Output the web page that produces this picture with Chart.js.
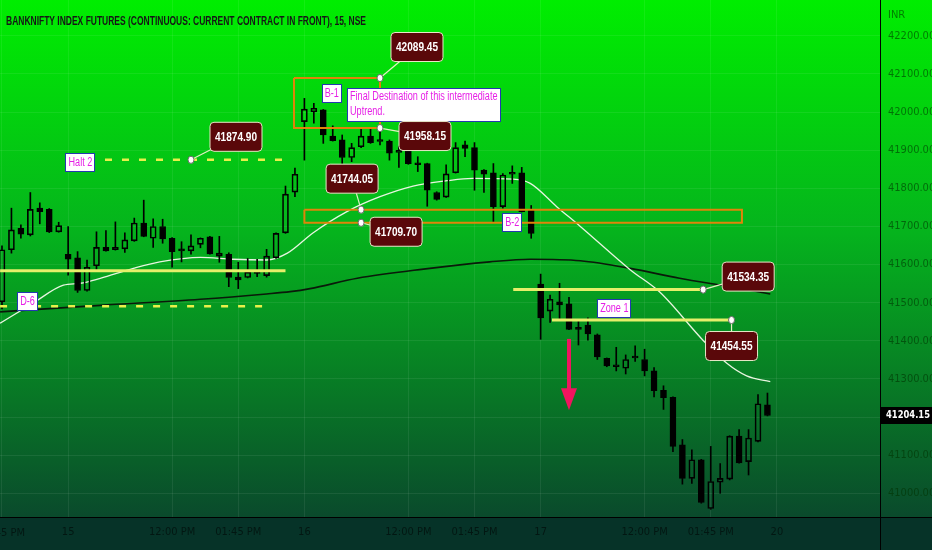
<!DOCTYPE html>
<html>
<head>
<meta charset="utf-8">
<script src="https://cdn.jsdelivr.net/npm/chart.js@4.4.1/dist/chart.umd.min.js"></script>
<style>
  html, body { margin: 0; padding: 0; background: #063328; overflow: hidden; }
  canvas { display: block; }
</style>
</head>
<body>
<canvas id="chart" width="932" height="550"></canvas>
<script>
// 15 min candles, index 0 = 14th 01:45 PM, 7 = 15th open, 32 = 16th, 57 = 17th
let opens = [41502,41639,41695,41678,41748,41745,41686,
  41627,41618,41532,41597,41645,41639,41641,41662,41709,41669,41700,41669,41639,41636,41653,41673,41622,41627,41560,41566,41580,41571,41618,41683,41790,
  41975,42001,42006,41937,41927,41881,41909,41937,41927,41924,41894,41897,41865,41865,41789,41777,41841,41914,41907,41848,41841,41752,41841,41841,41742,
  41549,41478,41502,41497,41432,41441,41416,41354,41337,41328,41355,41351,41321,41270,41252,41127,41039,41088,40960,41029,41037,41150,41083,41136,41232];
let closes = [41639,41691,41680,41745,41739,41686,41702,
  41614,41532,41593,41645,41636,41645,41665,41709,41674,41700,41667,41634,41636,41649,41669,41628,41630,41566,41567,41580,41577,41622,41682,41785,41837,
  42008,42010,41940,41925,41881,41907,41937,41920,41923,41892,41900,41865,41862,41795,41771,41838,41907,41905,41848,41837,41752,41835,41837,41739,41682,
  41460,41509,41494,41430,41430,41418,41358,41334,41332,41351,41358,41321,41269,41251,41123,41039,41088,40976,41031,41039,41150,41080,41145,41235,41204.15];
let highs = [41649,41748,41704,41789,41762,41747,41711,
  41700,41634,41612,41686,41689,41712,41683,41722,41769,41720,41719,41671,41660,41678,41670,41674,41674,41631,41606,41616,41614,41640,41683,41806,41853,
  42036,42023,42007,41964,41940,41918,41958,41958,41966,41927,41911,41905,41883,41866,41791,41862,41920,41924,41920,41849,41865,41839,41859,41855,41755,
  41575,41520,41551,41514,41453,41460,41418,41355,41383,41363,41387,41378,41330,41282,41253,41141,41114,41089,41123,41078,41151,41167,41167,41259,41263];
let lows = [41484,41630,41669,41675,41707,41684,41685,
  41572,41527,41530,41586,41635,41638,41632,41661,41673,41645,41656,41593,41607,41627,41644,41627,41606,41542,41537,41565,41568,41567,41616,41682,41778,
  41874,41971,41918,41924,41865,41870,41907,41918,41914,41874,41855,41863,41844,41753,41769,41776,41840,41883,41795,41789,41713,41748,41813,41738,41669,
  41404,41448,41455,41429,41389,41402,41351,41332,41321,41313,41346,41308,41253,41220,41109,41024,41026,40974,40958,41000,41035,41079,41048,41135,41203];

// moving averages (bar index, price)
let whiteMaIdx = [-0.2,3.3,6.5,8.3,10.4,13.9,16.7,21,24.4,28,30.2,32.9,36.5,40,43.5,47.1,49.8,54.1,55.9,58.7,61.2,66.5,69.6,74.2,76.7,78.8,81.3];
let whiteMaVal = [41446,41499,41546,41551,41564,41590,41607,41619,41614,41612,41630,41683,41739,41778,41806,41820,41826,41824,41813,41752,41700,41586,41528,41401,41341,41308,41293];
let blackMaIdx = [-0.2,10.4,21,28,30.5,32.6,37.6,44.6,51.6,55.9,61.2,66.5,71.7,77,81.3];
let blackMaVal = [41476,41493,41509,41523,41529,41537,41564,41588,41607,41614,41610,41590,41564,41542,41523];

// axis ticks
let tickIdx = [0,7,18,25,32,43,50,57,68,75,82];
let tickLabels = ['01:45 PM','15','12:00 PM','01:45 PM','16','12:00 PM','01:45 PM','17','12:00 PM','01:45 PM','20'];
let lastPrice = 41204.15;

// drawings: horizontal levels [fromIdx, toIdx, price]
let levelFrom = [-0.2, 10.9, -0.2, 54.1, 58.2];
let levelTo = [30, 30.5, 28.1, 74.2, 77.2];
let levelPrice = [41584, 41874.90, 41491, 41534.35, 41454.55];
let levelDashed = [false, true, true, false, false];

// boxes [fromIdx, toIdx, low, high]
let boxFrom = [30.9, 32];
let boxTo = [40, 78.3];
let boxLow = [41958.15, 41709.70];
let boxHigh = [42089.45, 41744.05];

// price callouts
let calloutIdx = [40, 40, 38, 38, 20, 74.2, 77.2];
let calloutPrice = [42089.45, 41958.15, 41744.05, 41709.70, 41874.90, 41534.35, 41454.55];
let calloutOffset = [[37,-31],[45,8],[-9,-31],[35,9],[45,-23],[45,-13],[0,26]];

// text notes
let noteText = [['Halt 2'], ['D-6'], ['B-1'], ['B-2'], ['Zone 1'], ['Final Destination of this intermediate', 'Uptrend.']];
let noteIdx = [8.3, 2.7, 34.9, 54.0, 64.8, 44.66];
let notePrice = [41866.5, 41503.2, 42048.8, 41711.7, 41484.8, 42018.6];

// arrow
let arrowIdx = 60;
let arrowFrom = 41405;
let arrowTo = 41218;

const narrow = '"Liberation Sans Narrow", "DejaVu Sans Condensed", "Liberation Sans", sans-serif';

function squeezeText(ctx, text, x, y, factor) {
  let w = ctx.measureText(text).width;
  ctx.fillText(text, x, y, w * factor);
  return w * factor;
}

function roundRect(ctx, x, y, w, h, r) {
  ctx.beginPath();
  ctx.moveTo(x + r, y);
  ctx.lineTo(x + w - r, y);
  ctx.quadraticCurveTo(x + w, y, x + w, y + r);
  ctx.lineTo(x + w, y + h - r);
  ctx.quadraticCurveTo(x + w, y + h, x + w - r, y + h);
  ctx.lineTo(x + r, y + h);
  ctx.quadraticCurveTo(x, y + h, x, y + h - r);
  ctx.lineTo(x, y + r);
  ctx.quadraticCurveTo(x, y, x + r, y);
  ctx.closePath();
}

const overlay = {
  id: 'overlay',
  beforeDraw(chart) {
    let { ctx, width, height, chartArea } = chart;
    ctx.save();
    let g = ctx.createLinearGradient(0, 0, 0, chartArea.bottom);
    g.addColorStop(0, '#00ee00');
    g.addColorStop(0.45, '#05b31d');
    g.addColorStop(1, '#0a4a2c');
    ctx.fillStyle = g;
    ctx.fillRect(0, 0, width, chartArea.bottom);
    ctx.fillStyle = '#063328';
    ctx.fillRect(0, chartArea.bottom, width, height - chartArea.bottom);
    ctx.restore();
  },
  afterDatasetsDraw(chart) {
    let { ctx, chartArea } = chart;
    let xs = chart.scales.x, ys = chart.scales.y;
    ctx.save();
    ctx.beginPath();
    ctx.rect(chartArea.left, chartArea.top, chartArea.width, chartArea.height);
    ctx.clip();

    // arrow
    let ax = xs.getPixelForValue(arrowIdx);
    let a0 = ys.getPixelForValue(arrowFrom), a1 = ys.getPixelForValue(arrowTo);
    ctx.fillStyle = '#f0145e';
    ctx.fillRect(ax - 2, a0, 4, (a1 - a0) - 20);
    ctx.beginPath();
    ctx.moveTo(ax - 8, a1 - 22);
    ctx.lineTo(ax + 8, a1 - 22);
    ctx.lineTo(ax, a1);
    ctx.closePath();
    ctx.fill();

    // notes
    ctx.font = '12px "Liberation Sans", sans-serif';
    ctx.textBaseline = 'middle';
    noteText.forEach((lines, n) => {
      let cx = xs.getPixelForValue(noteIdx[n]);
      let cy = ys.getPixelForValue(notePrice[n]);
      let tw = Math.max(...lines.map(l => ctx.measureText(l).width)) * 0.76;
      let w = Math.round(tw + 6), h = lines.length > 1 ? 34 : 19;
      let x0 = Math.round(cx - w / 2), y0 = Math.round(cy - h / 2);
      ctx.fillStyle = '#ffffff';
      ctx.fillRect(x0, y0, w, h);
      ctx.strokeStyle = '#2438b0';
      ctx.lineWidth = 1;
      ctx.strokeRect(x0 + 0.5, y0 + 0.5, w - 1, h - 1);
      ctx.fillStyle = '#e61ee6';
      ctx.textAlign = lines.length > 1 ? 'left' : 'center';
      lines.forEach((l, k) => {
        let ty = y0 + (lines.length > 1 ? 9 + k * 15 : h / 2 + 0.5);
        let tx = lines.length > 1 ? x0 + 3 : cx;
        squeezeText(ctx, l, tx, ty, 0.76);
      });
    });

    // callouts
    calloutIdx.forEach((ci, n) => {
      let px = xs.getPixelForValue(ci);
      let py = ys.getPixelForValue(calloutPrice[n]);
      let bx = px + calloutOffset[n][0], by = py + calloutOffset[n][1];
      ctx.strokeStyle = '#e4f0c4';
      ctx.lineWidth = 1.2;
      ctx.beginPath();
      ctx.moveTo(px, py);
      ctx.lineTo(bx, by);
      ctx.stroke();
      roundRect(ctx, bx - 26, by - 14.5, 52, 29, 4);
      ctx.fillStyle = '#5a080a';
      ctx.fill();
      ctx.strokeStyle = '#e8e8c8';
      ctx.lineWidth = 1;
      ctx.stroke();
      ctx.fillStyle = '#ffffff';
      ctx.font = 'bold 13px "Liberation Sans", sans-serif';
      ctx.textAlign = 'center';
      ctx.textBaseline = 'middle';
      ctx.fillText(calloutPrice[n].toFixed(2), bx, by + 0.5, 42);
      ctx.beginPath();
      ctx.ellipse(px, py, 3, 3.6, 0, 0, Math.PI * 2);
      ctx.fillStyle = '#ffffff';
      ctx.fill();
      ctx.strokeStyle = '#6a6a6a';
      ctx.lineWidth = 1;
      ctx.stroke();
    });
    ctx.restore();
  },
  afterDraw(chart) {
    let { ctx, width, height, chartArea } = chart;
    let xs = chart.scales.x, ys = chart.scales.y;
    ctx.save();
    // title
    ctx.fillStyle = '#161616';
    ctx.font = 'bold 13px "Liberation Sans", sans-serif';
    ctx.textAlign = 'left';
    ctx.textBaseline = 'alphabetic';
    ctx.fillText('BANKNIFTY INDEX FUTURES (CONTINUOUS: CURRENT CONTRACT IN FRONT), 15, NSE', 6, 25, 360);
    // currency
    ctx.font = '11px ' + narrow;
    ctx.fillStyle = 'rgba(0,50,0,0.6)';
    ctx.textBaseline = 'middle';
    ctx.fillText('INR', chartArea.right + 8, 15);
    // clipped first time label
    ctx.fillStyle = 'rgba(0,0,0,0.55)';
    ctx.textAlign = 'center';
    ctx.fillText(tickLabels[0], xs.getPixelForValue(tickIdx[0]), chartArea.bottom + 16);
    // axis frame lines
    ctx.fillStyle = '#000';
    ctx.fillRect(0, chartArea.bottom, width, 1);
    ctx.fillRect(chartArea.right, 0, 1, height);
    // last price tag
    let ly = Math.round(ys.getPixelForValue(lastPrice));
    ctx.fillStyle = '#000';
    ctx.fillRect(chartArea.right + 1, ly - 8, width - chartArea.right - 1, 17);
    ctx.fillStyle = '#fff';
    ctx.font = 'bold 11px ' + narrow;
    ctx.textAlign = 'left';
    ctx.fillText(lastPrice.toFixed(2), chartArea.right + 6, ly + 0.5, 44);
    ctx.restore();
  }
};

let idx = opens.map((_, i) => i);
let isUp = idx.map(i => closes[i] >= opens[i]);

let candleSets = [
  {
    label: 'upper wick',
    data: idx.map(i => ({ x: i, y: [Math.max(opens[i], closes[i]), highs[i]] })),
    backgroundColor: '#000', barThickness: 1, grouped: false, order: 1
  },
  {
    label: 'lower wick',
    data: idx.map(i => ({ x: i, y: [lows[i], Math.min(opens[i], closes[i])] })),
    backgroundColor: '#000', barThickness: 1, grouped: false, order: 1
  },
  {
    label: 'body',
    data: idx.map(i => ({ x: i, y: [opens[i], closes[i]] })),
    backgroundColor: idx.map(i => isUp[i] ? 'rgba(0,0,0,0)' : '#000'),
    borderColor: '#000', borderWidth: 1, borderSkipped: false,
    barThickness: 6, minBarLength: 2, grouped: false, order: 1
  }
];

let maSets = [
  {
    type: 'line', label: 'fast ma',
    data: whiteMaIdx.map((x, k) => ({ x: x, y: whiteMaVal[k] })),
    borderColor: '#e8f5e0', borderWidth: 1.3, pointRadius: 0,
    cubicInterpolationMode: 'monotone', order: 5
  },
  {
    type: 'line', label: 'slow ma',
    data: blackMaIdx.map((x, k) => ({ x: x, y: blackMaVal[k] })),
    borderColor: '#0a1a0a', borderWidth: 1.6, pointRadius: 0,
    cubicInterpolationMode: 'monotone', order: 5
  }
];

let levelSets = levelPrice.map((p, k) => ({
  type: 'line', label: 'level ' + k,
  data: [{ x: levelFrom[k], y: p }, { x: levelTo[k], y: p }],
  borderColor: levelDashed[k] ? '#e9f04a' : '#e6ef6a',
  borderWidth: levelDashed[k] ? 2.5 : 3,
  borderDash: levelDashed[k] ? [7, 10] : [],
  pointRadius: 0, order: 0
}));

let boxSets = boxLow.map((lo, k) => ({
  type: 'line', label: 'box ' + k,
  data: [
    { x: boxFrom[k], y: boxHigh[k] }, { x: boxTo[k], y: boxHigh[k] },
    { x: boxTo[k], y: lo }, { x: boxFrom[k], y: lo }, { x: boxFrom[k], y: boxHigh[k] }
  ],
  borderColor: '#e0840a', borderWidth: 2, pointRadius: 0, tension: 0, order: 0
}));

const ctx = document.getElementById('chart').getContext('2d');

let myChart = new Chart(ctx, {
  type: 'bar',
  data: { datasets: [...candleSets, ...maSets, ...levelSets, ...boxSets] },
  options: {
    responsive: false,
    animation: false,
    devicePixelRatio: 1,
    layout: { padding: 0 },
    plugins: {
      legend: { display: false },
      tooltip: { enabled: false },
      title: { display: false }
    },
    scales: {
      x: {
        type: 'linear',
        min: -0.21,
        max: 92.91,
        offset: false,
        afterBuildTicks: (scale) => { scale.ticks = tickIdx.map(v => ({ value: v })); },
        afterFit: (scale) => {
          scale.height = 33;
          scale.paddingLeft = 0;
          scale.paddingRight = 0;
        },
        ticks: {
          autoSkip: false,
          maxRotation: 0,
          padding: 9,
          color: 'rgba(0,0,0,0.55)',
          font: { family: narrow, size: 11 },
          callback: (value) => {
            let k = tickIdx.indexOf(value);
            return k > 0 ? tickLabels[k] : '';
          }
        },
        grid: { color: 'rgba(255,255,255,0.07)', drawTicks: false, offset: false },
        border: { color: '#000', width: 1 }
      },
      y: {
        position: 'right',
        min: 40937.8,
        max: 42294.1,
        afterFit: (scale) => {
          scale.width = 52;
          scale.paddingTop = 0;
          scale.paddingBottom = 0;
        },
        ticks: {
          stepSize: 100,
          includeBounds: false,
          maxTicksLimit: 30,
          padding: 8,
          color: 'rgba(0,50,0,0.6)',
          font: { family: narrow, size: 11 },
          callback: (value) => value.toFixed(2)
        },
        grid: { color: 'rgba(255,255,255,0.07)', drawTicks: false },
        border: { color: '#000', width: 1 }
      }
    }
  },
  plugins: [overlay]
});
</script>
</body>
</html>
